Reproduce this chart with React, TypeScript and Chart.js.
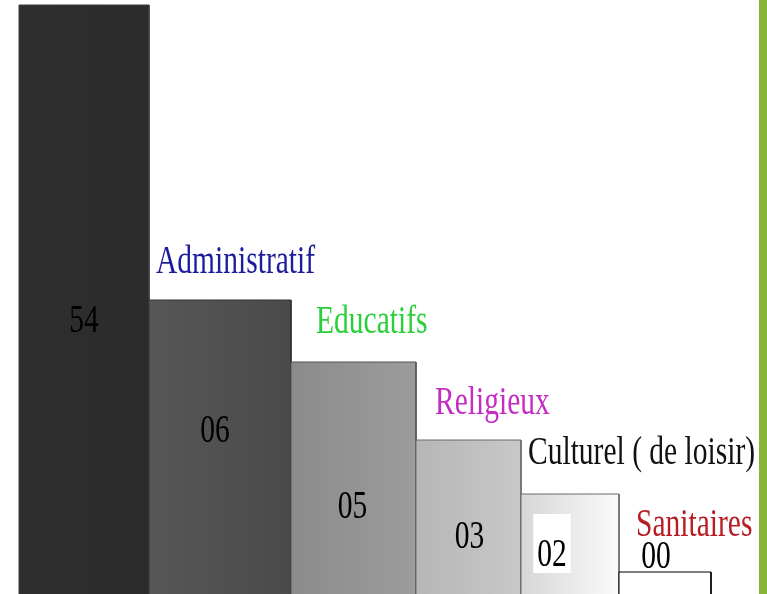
import React, { useEffect, useRef } from "react";
import { Chart, registerables } from "chart.js";

Chart.register(...registerables);

// ---- data ----
const categories = ["", "Administratif", "Educatifs", "Religieux", "Culturel ( de loisir)", "Sanitaires"];
const counts = ["54", "06", "05", "03", "02", "00"];
const barHeights = [595, 300, 238, 160, 106, 28];
const barWidths = [130, 142, 125, 105, 98, 92];
const firstBarStart = 19;

// ---- styles / layout (not data) ----
const labelColors = ["#000", "#1c1c9c", "#2bcf3a", "#c42cc4", "#111111", "#b71d24"];
const barFillStops: [string, string][] = [
  ["#2e2e2e", "#2c2c2c"],
  ["#575757", "#4a4a4a"],
  ["#8b8b8b", "#9c9c9c"],
  ["#b6b6b6", "#c8c8c8"],
  ["#d6d6d6", "#fbfbfb"],
  ["#ffffff", "#ffffff"],
];
const barBorders = ["#3a3a3a", "#333333", "#555555", "#6a6a6a", "#6a6a6a", "#000000"];
const labelOffsetX = [0, 7, 25, 19, 7, 17];
const labelGapAbove = [0, 27, 29, 26, 30, 36];
const valueOffsetX = [0, -5, -1, 1, -18, -9];
const valueBaselineFromTop = [327, 142, 156, 108, 72, -4];
const valueBox = [false, false, false, false, true, false];

const FONT = '41px "Liberation Serif", "Times New Roman", serif';
const SX = 0.72;

const edges: number[] = [firstBarStart];
barWidths.forEach((w) => edges.push(edges[edges.length - 1] + w));

const labelPlugin = {
  id: "stairLabels",
  afterDatasetsDraw(chart: any) {
    const { ctx, scales } = chart;
    const xs = scales.x;
    const ys = scales.y;
    ctx.save();
    ctx.font = FONT;
    ctx.textBaseline = "alphabetic";
    for (let i = 0; i < barHeights.length; i++) {
      const left = xs.getPixelForValue(edges[i]);
      const right = xs.getPixelForValue(edges[i + 1]);
      const top = ys.getPixelForValue(barHeights[i]);
      // category label
      if (categories[i]) {
        ctx.save();
        ctx.translate(left + labelOffsetX[i], top - labelGapAbove[i]);
        ctx.scale(SX, 1);
        ctx.fillStyle = labelColors[i];
        ctx.textAlign = "left";
        ctx.fillText(categories[i], 0, 0);
        ctx.restore();
      }
      // value
      const cx = (left + right) / 2 + valueOffsetX[i];
      const by = top + valueBaselineFromTop[i];
      const w = ctx.measureText(counts[i]).width * SX;
      if (valueBox[i]) {
        ctx.fillStyle = "#ffffff";
        ctx.fillRect(cx - w / 2 - 4, by - 52, w + 8, 59);
      }
      ctx.save();
      ctx.translate(cx, by);
      ctx.scale(SX, 1);
      ctx.fillStyle = "#000000";
      ctx.textAlign = "center";
      ctx.fillText(counts[i], 0, 0);
      ctx.restore();
    }
    ctx.restore();
  },
};

export default function App() {
  const ref = useRef<HTMLCanvasElement | null>(null);
  useEffect(() => {
    if (!ref.current) return;
    const datasets = barHeights.map((h, i) => ({
      label: categories[i] || "Total",
      data: [
        { x: edges[i], y: 0 },
        { x: edges[i], y: h },
        { x: edges[i + 1], y: h },
        { x: edges[i + 1], y: 0 },
      ],
      fill: "origin",
      borderColor: barBorders[i],
      borderWidth: 1,
      pointRadius: 0,
      tension: 0,
      order: barHeights.length - i,
      backgroundColor: (c: any) => {
        const chart = c.chart;
        if (!chart.chartArea) return barFillStops[i][0];
        const xs = chart.scales.x;
        const x0 = xs.getPixelForValue(edges[i]);
        const x1 = xs.getPixelForValue(edges[i + 1]);
        const g = chart.ctx.createLinearGradient(x0, 0, x1, 0);
        g.addColorStop(0, barFillStops[i][0]);
        g.addColorStop(1, barFillStops[i][1]);
        return g;
      },
    }));
    const chart = new Chart(ref.current, {
      type: "line",
      data: { datasets: datasets as any },
      options: {
        animation: false,
        responsive: false,
        maintainAspectRatio: false,
        layout: { padding: 0 },
        events: [],
        scales: {
          x: { type: "linear", min: 0, max: 767, display: false },
          y: { type: "linear", min: 6, max: 600, display: false },
        },
        plugins: {
          legend: { display: false },
          tooltip: { enabled: false },
        },
      },
      plugins: [labelPlugin],
    });
    return () => chart.destroy();
  }, []);
  return (
    <div style={{ position: "fixed", left: 0, top: 0, width: 767, height: 594, background: "#ffffff", overflow: "hidden" }}>
      <canvas ref={ref} width={767} height={594} style={{ display: "block", width: 767, height: 594 }} />
      <div style={{ position: "absolute", left: 759, top: 0, width: 8, height: 594, background: "#85b437" }} />
    </div>
  );
}
